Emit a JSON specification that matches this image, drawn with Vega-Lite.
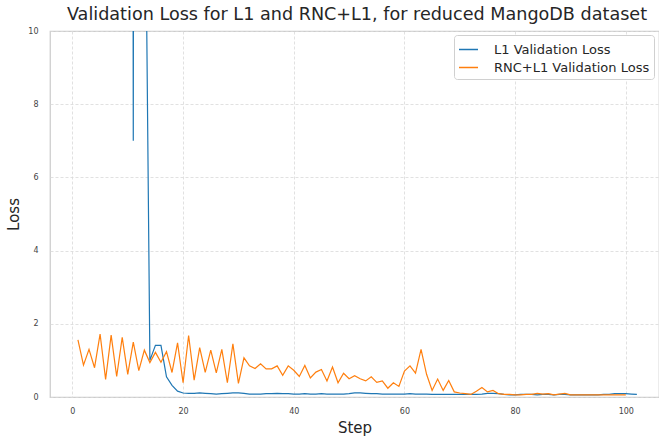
{
  "$schema": "https://vega.github.io/schema/vega-lite/v6.json",
  "autosize": {"type": "none"},
  "width": 609,
  "height": 366,
  "padding": {"left": 50, "top": 31, "right": 0, "bottom": 40},
  "background": "white",
  "title": {
    "text": "Validation Loss for L1 and RNC+L1, for reduced MangoDB dataset",
    "font": "DejaVu Sans",
    "fontSize": 17.6,
    "fontWeight": "normal",
    "color": "#262626",
    "anchor": "middle",
    "offset": 3,
    "dx": 2.5
  },
  "config": {
    "view": {"stroke": "#cccccc", "strokeWidth": 1.25},
    "axis": {
      "labelFont": "DejaVu Sans",
      "labelFontSize": 8,
      "labelColor": "#444444",
      "domain": false,
      "ticks": false,
      "grid": true,
      "gridColor": "#d9d9d9",
      "gridDash": [3, 2],
      "gridWidth": 0.8,
      "titleFont": "DejaVu Sans",
      "titleFontSize": 15,
      "titleFontWeight": "normal",
      "titleColor": "#262626"
    }
  },
  "data": {
    "values": [
      {"step": 1, "loss": 400, "series": "L1 Validation Loss"},
      {"step": 2, "loss": 380, "series": "L1 Validation Loss"},
      {"step": 3, "loss": 350, "series": "L1 Validation Loss"},
      {"step": 4, "loss": 320, "series": "L1 Validation Loss"},
      {"step": 5, "loss": 300, "series": "L1 Validation Loss"},
      {"step": 6, "loss": 260, "series": "L1 Validation Loss"},
      {"step": 7, "loss": 230, "series": "L1 Validation Loss"},
      {"step": 8, "loss": 200, "series": "L1 Validation Loss"},
      {"step": 9, "loss": 160, "series": "L1 Validation Loss"},
      {"step": 10, "loss": 120, "series": "L1 Validation Loss"},
      {"step": 11, "loss": 7.0, "series": "L1 Validation Loss"},
      {"step": 12, "loss": 150, "series": "L1 Validation Loss"},
      {"step": 13, "loss": 17, "series": "L1 Validation Loss"},
      {"step": 14, "loss": 1.0, "series": "L1 Validation Loss"},
      {"step": 15, "loss": 1.41, "series": "L1 Validation Loss"},
      {"step": 16, "loss": 1.41, "series": "L1 Validation Loss"},
      {"step": 17, "loss": 0.55, "series": "L1 Validation Loss"},
      {"step": 18, "loss": 0.32, "series": "L1 Validation Loss"},
      {"step": 19, "loss": 0.16, "series": "L1 Validation Loss"},
      {"step": 20, "loss": 0.11, "series": "L1 Validation Loss"},
      {"step": 21, "loss": 0.10, "series": "L1 Validation Loss"},
      {"step": 22, "loss": 0.10, "series": "L1 Validation Loss"},
      {"step": 23, "loss": 0.11, "series": "L1 Validation Loss"},
      {"step": 24, "loss": 0.10, "series": "L1 Validation Loss"},
      {"step": 25, "loss": 0.09, "series": "L1 Validation Loss"},
      {"step": 26, "loss": 0.08, "series": "L1 Validation Loss"},
      {"step": 27, "loss": 0.09, "series": "L1 Validation Loss"},
      {"step": 28, "loss": 0.10, "series": "L1 Validation Loss"},
      {"step": 29, "loss": 0.11, "series": "L1 Validation Loss"},
      {"step": 30, "loss": 0.11, "series": "L1 Validation Loss"},
      {"step": 31, "loss": 0.10, "series": "L1 Validation Loss"},
      {"step": 32, "loss": 0.08, "series": "L1 Validation Loss"},
      {"step": 33, "loss": 0.08, "series": "L1 Validation Loss"},
      {"step": 34, "loss": 0.08, "series": "L1 Validation Loss"},
      {"step": 35, "loss": 0.09, "series": "L1 Validation Loss"},
      {"step": 36, "loss": 0.09, "series": "L1 Validation Loss"},
      {"step": 37, "loss": 0.10, "series": "L1 Validation Loss"},
      {"step": 38, "loss": 0.09, "series": "L1 Validation Loss"},
      {"step": 39, "loss": 0.09, "series": "L1 Validation Loss"},
      {"step": 40, "loss": 0.08, "series": "L1 Validation Loss"},
      {"step": 41, "loss": 0.08, "series": "L1 Validation Loss"},
      {"step": 42, "loss": 0.09, "series": "L1 Validation Loss"},
      {"step": 43, "loss": 0.08, "series": "L1 Validation Loss"},
      {"step": 44, "loss": 0.08, "series": "L1 Validation Loss"},
      {"step": 45, "loss": 0.09, "series": "L1 Validation Loss"},
      {"step": 46, "loss": 0.08, "series": "L1 Validation Loss"},
      {"step": 47, "loss": 0.08, "series": "L1 Validation Loss"},
      {"step": 48, "loss": 0.08, "series": "L1 Validation Loss"},
      {"step": 49, "loss": 0.08, "series": "L1 Validation Loss"},
      {"step": 50, "loss": 0.09, "series": "L1 Validation Loss"},
      {"step": 51, "loss": 0.11, "series": "L1 Validation Loss"},
      {"step": 52, "loss": 0.11, "series": "L1 Validation Loss"},
      {"step": 53, "loss": 0.10, "series": "L1 Validation Loss"},
      {"step": 54, "loss": 0.09, "series": "L1 Validation Loss"},
      {"step": 55, "loss": 0.09, "series": "L1 Validation Loss"},
      {"step": 56, "loss": 0.08, "series": "L1 Validation Loss"},
      {"step": 57, "loss": 0.08, "series": "L1 Validation Loss"},
      {"step": 58, "loss": 0.08, "series": "L1 Validation Loss"},
      {"step": 59, "loss": 0.08, "series": "L1 Validation Loss"},
      {"step": 60, "loss": 0.08, "series": "L1 Validation Loss"},
      {"step": 61, "loss": 0.09, "series": "L1 Validation Loss"},
      {"step": 62, "loss": 0.08, "series": "L1 Validation Loss"},
      {"step": 63, "loss": 0.08, "series": "L1 Validation Loss"},
      {"step": 64, "loss": 0.08, "series": "L1 Validation Loss"},
      {"step": 65, "loss": 0.07, "series": "L1 Validation Loss"},
      {"step": 66, "loss": 0.07, "series": "L1 Validation Loss"},
      {"step": 67, "loss": 0.07, "series": "L1 Validation Loss"},
      {"step": 68, "loss": 0.07, "series": "L1 Validation Loss"},
      {"step": 69, "loss": 0.07, "series": "L1 Validation Loss"},
      {"step": 70, "loss": 0.07, "series": "L1 Validation Loss"},
      {"step": 71, "loss": 0.07, "series": "L1 Validation Loss"},
      {"step": 72, "loss": 0.07, "series": "L1 Validation Loss"},
      {"step": 73, "loss": 0.07, "series": "L1 Validation Loss"},
      {"step": 74, "loss": 0.08, "series": "L1 Validation Loss"},
      {"step": 75, "loss": 0.10, "series": "L1 Validation Loss"},
      {"step": 76, "loss": 0.10, "series": "L1 Validation Loss"},
      {"step": 77, "loss": 0.09, "series": "L1 Validation Loss"},
      {"step": 78, "loss": 0.07, "series": "L1 Validation Loss"},
      {"step": 79, "loss": 0.06, "series": "L1 Validation Loss"},
      {"step": 80, "loss": 0.06, "series": "L1 Validation Loss"},
      {"step": 81, "loss": 0.07, "series": "L1 Validation Loss"},
      {"step": 82, "loss": 0.07, "series": "L1 Validation Loss"},
      {"step": 83, "loss": 0.07, "series": "L1 Validation Loss"},
      {"step": 84, "loss": 0.06, "series": "L1 Validation Loss"},
      {"step": 85, "loss": 0.07, "series": "L1 Validation Loss"},
      {"step": 86, "loss": 0.07, "series": "L1 Validation Loss"},
      {"step": 87, "loss": 0.06, "series": "L1 Validation Loss"},
      {"step": 88, "loss": 0.07, "series": "L1 Validation Loss"},
      {"step": 89, "loss": 0.07, "series": "L1 Validation Loss"},
      {"step": 90, "loss": 0.06, "series": "L1 Validation Loss"},
      {"step": 91, "loss": 0.06, "series": "L1 Validation Loss"},
      {"step": 92, "loss": 0.06, "series": "L1 Validation Loss"},
      {"step": 93, "loss": 0.06, "series": "L1 Validation Loss"},
      {"step": 94, "loss": 0.06, "series": "L1 Validation Loss"},
      {"step": 95, "loss": 0.06, "series": "L1 Validation Loss"},
      {"step": 96, "loss": 0.07, "series": "L1 Validation Loss"},
      {"step": 97, "loss": 0.07, "series": "L1 Validation Loss"},
      {"step": 98, "loss": 0.09, "series": "L1 Validation Loss"},
      {"step": 99, "loss": 0.09, "series": "L1 Validation Loss"},
      {"step": 100, "loss": 0.09, "series": "L1 Validation Loss"},
      {"step": 101, "loss": 0.08, "series": "L1 Validation Loss"},
      {"step": 102, "loss": 0.07, "series": "L1 Validation Loss"},
      {"step": 1, "loss": 1.56, "series": "RNC+L1 Validation Loss"},
      {"step": 2, "loss": 0.87, "series": "RNC+L1 Validation Loss"},
      {"step": 3, "loss": 1.30, "series": "RNC+L1 Validation Loss"},
      {"step": 4, "loss": 0.80, "series": "RNC+L1 Validation Loss"},
      {"step": 5, "loss": 1.72, "series": "RNC+L1 Validation Loss"},
      {"step": 6, "loss": 0.48, "series": "RNC+L1 Validation Loss"},
      {"step": 7, "loss": 1.69, "series": "RNC+L1 Validation Loss"},
      {"step": 8, "loss": 0.56, "series": "RNC+L1 Validation Loss"},
      {"step": 9, "loss": 1.63, "series": "RNC+L1 Validation Loss"},
      {"step": 10, "loss": 0.62, "series": "RNC+L1 Validation Loss"},
      {"step": 11, "loss": 1.50, "series": "RNC+L1 Validation Loss"},
      {"step": 12, "loss": 0.72, "series": "RNC+L1 Validation Loss"},
      {"step": 13, "loss": 1.28, "series": "RNC+L1 Validation Loss"},
      {"step": 14, "loss": 0.94, "series": "RNC+L1 Validation Loss"},
      {"step": 15, "loss": 1.22, "series": "RNC+L1 Validation Loss"},
      {"step": 16, "loss": 0.95, "series": "RNC+L1 Validation Loss"},
      {"step": 17, "loss": 1.24, "series": "RNC+L1 Validation Loss"},
      {"step": 18, "loss": 0.67, "series": "RNC+L1 Validation Loss"},
      {"step": 19, "loss": 1.48, "series": "RNC+L1 Validation Loss"},
      {"step": 20, "loss": 0.39, "series": "RNC+L1 Validation Loss"},
      {"step": 21, "loss": 1.68, "series": "RNC+L1 Validation Loss"},
      {"step": 22, "loss": 0.46, "series": "RNC+L1 Validation Loss"},
      {"step": 23, "loss": 1.35, "series": "RNC+L1 Validation Loss"},
      {"step": 24, "loss": 0.67, "series": "RNC+L1 Validation Loss"},
      {"step": 25, "loss": 1.28, "series": "RNC+L1 Validation Loss"},
      {"step": 26, "loss": 0.66, "series": "RNC+L1 Validation Loss"},
      {"step": 27, "loss": 1.30, "series": "RNC+L1 Validation Loss"},
      {"step": 28, "loss": 0.39, "series": "RNC+L1 Validation Loss"},
      {"step": 29, "loss": 1.45, "series": "RNC+L1 Validation Loss"},
      {"step": 30, "loss": 0.37, "series": "RNC+L1 Validation Loss"},
      {"step": 31, "loss": 1.07, "series": "RNC+L1 Validation Loss"},
      {"step": 32, "loss": 0.85, "series": "RNC+L1 Validation Loss"},
      {"step": 33, "loss": 0.78, "series": "RNC+L1 Validation Loss"},
      {"step": 34, "loss": 0.91, "series": "RNC+L1 Validation Loss"},
      {"step": 35, "loss": 0.77, "series": "RNC+L1 Validation Loss"},
      {"step": 36, "loss": 0.77, "series": "RNC+L1 Validation Loss"},
      {"step": 37, "loss": 0.85, "series": "RNC+L1 Validation Loss"},
      {"step": 38, "loss": 0.59, "series": "RNC+L1 Validation Loss"},
      {"step": 39, "loss": 0.85, "series": "RNC+L1 Validation Loss"},
      {"step": 40, "loss": 0.73, "series": "RNC+L1 Validation Loss"},
      {"step": 41, "loss": 0.56, "series": "RNC+L1 Validation Loss"},
      {"step": 42, "loss": 0.86, "series": "RNC+L1 Validation Loss"},
      {"step": 43, "loss": 0.52, "series": "RNC+L1 Validation Loss"},
      {"step": 44, "loss": 0.68, "series": "RNC+L1 Validation Loss"},
      {"step": 45, "loss": 0.75, "series": "RNC+L1 Validation Loss"},
      {"step": 46, "loss": 0.44, "series": "RNC+L1 Validation Loss"},
      {"step": 47, "loss": 0.82, "series": "RNC+L1 Validation Loss"},
      {"step": 48, "loss": 0.39, "series": "RNC+L1 Validation Loss"},
      {"step": 49, "loss": 0.65, "series": "RNC+L1 Validation Loss"},
      {"step": 50, "loss": 0.50, "series": "RNC+L1 Validation Loss"},
      {"step": 51, "loss": 0.58, "series": "RNC+L1 Validation Loss"},
      {"step": 52, "loss": 0.50, "series": "RNC+L1 Validation Loss"},
      {"step": 53, "loss": 0.44, "series": "RNC+L1 Validation Loss"},
      {"step": 54, "loss": 0.55, "series": "RNC+L1 Validation Loss"},
      {"step": 55, "loss": 0.40, "series": "RNC+L1 Validation Loss"},
      {"step": 56, "loss": 0.44, "series": "RNC+L1 Validation Loss"},
      {"step": 57, "loss": 0.24, "series": "RNC+L1 Validation Loss"},
      {"step": 58, "loss": 0.39, "series": "RNC+L1 Validation Loss"},
      {"step": 59, "loss": 0.29, "series": "RNC+L1 Validation Loss"},
      {"step": 60, "loss": 0.71, "series": "RNC+L1 Validation Loss"},
      {"step": 61, "loss": 0.85, "series": "RNC+L1 Validation Loss"},
      {"step": 62, "loss": 0.65, "series": "RNC+L1 Validation Loss"},
      {"step": 63, "loss": 1.30, "series": "RNC+L1 Validation Loss"},
      {"step": 64, "loss": 0.62, "series": "RNC+L1 Validation Loss"},
      {"step": 65, "loss": 0.18, "series": "RNC+L1 Validation Loss"},
      {"step": 66, "loss": 0.49, "series": "RNC+L1 Validation Loss"},
      {"step": 67, "loss": 0.18, "series": "RNC+L1 Validation Loss"},
      {"step": 68, "loss": 0.45, "series": "RNC+L1 Validation Loss"},
      {"step": 69, "loss": 0.14, "series": "RNC+L1 Validation Loss"},
      {"step": 70, "loss": 0.11, "series": "RNC+L1 Validation Loss"},
      {"step": 71, "loss": 0.09, "series": "RNC+L1 Validation Loss"},
      {"step": 72, "loss": 0.07, "series": "RNC+L1 Validation Loss"},
      {"step": 73, "loss": 0.16, "series": "RNC+L1 Validation Loss"},
      {"step": 74, "loss": 0.26, "series": "RNC+L1 Validation Loss"},
      {"step": 75, "loss": 0.14, "series": "RNC+L1 Validation Loss"},
      {"step": 76, "loss": 0.18, "series": "RNC+L1 Validation Loss"},
      {"step": 77, "loss": 0.09, "series": "RNC+L1 Validation Loss"},
      {"step": 78, "loss": 0.07, "series": "RNC+L1 Validation Loss"},
      {"step": 79, "loss": 0.07, "series": "RNC+L1 Validation Loss"},
      {"step": 80, "loss": 0.06, "series": "RNC+L1 Validation Loss"},
      {"step": 81, "loss": 0.06, "series": "RNC+L1 Validation Loss"},
      {"step": 82, "loss": 0.07, "series": "RNC+L1 Validation Loss"},
      {"step": 83, "loss": 0.07, "series": "RNC+L1 Validation Loss"},
      {"step": 84, "loss": 0.10, "series": "RNC+L1 Validation Loss"},
      {"step": 85, "loss": 0.08, "series": "RNC+L1 Validation Loss"},
      {"step": 86, "loss": 0.09, "series": "RNC+L1 Validation Loss"},
      {"step": 87, "loss": 0.06, "series": "RNC+L1 Validation Loss"},
      {"step": 88, "loss": 0.08, "series": "RNC+L1 Validation Loss"},
      {"step": 89, "loss": 0.10, "series": "RNC+L1 Validation Loss"},
      {"step": 90, "loss": 0.06, "series": "RNC+L1 Validation Loss"},
      {"step": 91, "loss": 0.06, "series": "RNC+L1 Validation Loss"},
      {"step": 92, "loss": 0.06, "series": "RNC+L1 Validation Loss"},
      {"step": 93, "loss": 0.06, "series": "RNC+L1 Validation Loss"},
      {"step": 94, "loss": 0.06, "series": "RNC+L1 Validation Loss"},
      {"step": 95, "loss": 0.06, "series": "RNC+L1 Validation Loss"},
      {"step": 96, "loss": 0.06, "series": "RNC+L1 Validation Loss"},
      {"step": 97, "loss": 0.06, "series": "RNC+L1 Validation Loss"},
      {"step": 98, "loss": 0.06, "series": "RNC+L1 Validation Loss"},
      {"step": 99, "loss": 0.06, "series": "RNC+L1 Validation Loss"},
      {"step": 100, "loss": 0.06, "series": "RNC+L1 Validation Loss"}
    ]
  },
  "mark": {"type": "line", "clip": true, "strokeWidth": 1.2},
  "encoding": {
    "x": {
      "field": "step",
      "type": "quantitative",
      "title": "Step",
      "scale": {"domain": [-4.05, 106], "nice": false, "zero": false},
      "axis": {"values": [0, 20, 40, 60, 80, 100], "labelPadding": 10, "titlePadding": 5}
    },
    "y": {
      "field": "loss",
      "type": "quantitative",
      "title": "Loss",
      "scale": {"domain": [0, 10], "nice": false},
      "axis": {"values": [0, 2, 4, 6, 8, 10], "labelPadding": 12, "titlePadding": 6}
    },
    "color": {
      "field": "series",
      "type": "nominal",
      "scale": {
        "domain": ["L1 Validation Loss", "RNC+L1 Validation Loss"],
        "range": ["#1f77b4", "#ff7f0e"]
      },
      "legend": {
        "title": null,
        "orient": "none",
        "legendX": 404,
        "legendY": 4,
        "padding": 4,
        "symbolType": "stroke",
        "symbolSize": 361,
        "symbolStrokeWidth": 1.5,
        "labelFont": "DejaVu Sans",
        "labelFontSize": 13,
        "labelColor": "#262626",
        "labelOffset": 15,
        "rowPadding": 0,
        "strokeColor": "#d0d0d0",
        "fillColor": "white",
        "cornerRadius": 3,
        "labelLimit": 300
      }
    }
  }
}
